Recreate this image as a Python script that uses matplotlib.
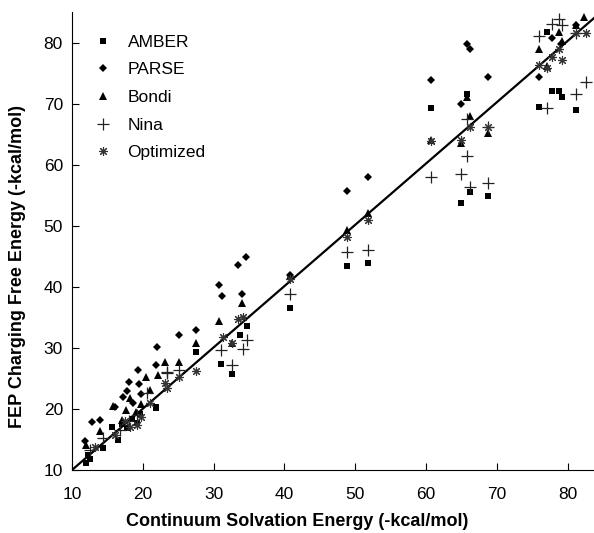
import matplotlib
matplotlib.use('Agg')
import matplotlib.pyplot as plt

plt.rcParams['font.family'] = ['Liberation Sans', 'DejaVu Sans']

# continuum energy (x) / FEP energy (y), -kcal/mol
amber_x = [12.3, 12.5, 12.0, 14.4, 16.5, 15.6, 17.0, 17.8, 19.2, 18.5, 19.6, 21.9, 21.9, 27.5, 31.0,
           32.6, 33.7, 34.7, 40.8, 48.8, 51.8, 60.7, 65.8, 64.9, 66.2, 68.8, 77.1, 77.7, 78.8, 79.2,
           76.0, 81.2]
amber_y = [12.5, 11.8, 11.2, 13.6, 14.9, 17.0, 17.5, 16.9, 17.7, 18.3, 19.2, 20.2, 20.3, 29.4, 27.4,
           25.7, 32.1, 33.6, 36.6, 43.4, 43.9, 69.2, 71.6, 53.8, 55.6, 54.9, 81.8, 72.0, 72.0, 71.0,
           69.5, 69.0]

parse_x = [11.8, 12.8, 14.0, 16.1, 17.2, 17.8, 18.1, 18.6, 19.5, 19.3, 19.7, 21.9, 22.0, 25.1, 27.5,
           30.8, 31.2, 33.4, 34.6, 34.0, 40.8, 48.8, 51.8, 60.7, 65.8, 66.2, 64.9, 68.8, 76.0, 77.7,
           79.0, 81.2]
parse_y = [14.8, 17.9, 18.2, 20.3, 22.0, 23.0, 24.4, 21.0, 24.1, 26.4, 22.5, 27.2, 30.2, 32.1, 32.9,
           40.3, 38.5, 43.6, 44.8, 38.8, 42.0, 55.7, 57.9, 73.8, 79.8, 78.9, 70.0, 74.3, 74.4, 80.7,
           79.7, 82.8]

bondi_x = [12.0, 14.0, 15.8, 17.1, 17.6, 18.2, 19.0, 19.8, 20.5, 21.0, 22.1, 23.1, 25.1, 27.5, 30.8,
           32.6, 34.0, 40.8, 48.8, 51.8, 60.7, 64.9, 65.8, 66.2, 68.8, 76.0, 77.1, 78.8, 79.2, 81.2,
           82.3]
bondi_y = [14.1, 16.4, 20.5, 18.2, 19.8, 21.8, 19.5, 20.8, 25.2, 23.1, 25.6, 27.7, 27.7, 30.8, 34.4,
           30.8, 37.4, 41.8, 49.3, 52.1, 64.1, 63.6, 71.1, 68.0, 65.2, 79.0, 76.1, 81.8, 80.3, 82.8,
           84.1]

nina_x = [12.5, 14.4, 16.8, 18.0, 19.2, 20.6, 23.4, 23.4, 25.1, 31.0, 32.6, 34.2, 34.7, 40.8, 48.8,
          51.8, 60.7, 64.9, 65.8, 65.8, 66.2, 68.8, 68.8, 76.0, 77.1, 77.7, 78.8, 79.2, 81.2, 81.2,
          82.5]
nina_y = [13.3, 15.2, 16.6, 18.0, 19.0, 22.6, 25.9, 26.1, 26.4, 29.7, 27.2, 29.8, 31.3, 38.9, 45.7,
          46.1, 58.0, 58.5, 67.4, 61.5, 56.4, 57.0, 66.2, 81.1, 69.2, 83.1, 83.8, 82.8, 71.6, 81.5,
          73.6]

opt_x = [13.2, 16.1, 17.5, 18.2, 19.2, 19.8, 21.0, 23.1, 23.4, 25.1, 27.5, 31.3, 32.6, 33.4, 34.2,
         40.8, 48.8, 51.8, 60.7, 64.9, 66.2, 68.8, 76.0, 77.1, 77.7, 78.8, 79.2, 81.2, 82.5]
opt_y = [13.8, 15.7, 18.0, 17.1, 17.4, 18.6, 21.0, 24.3, 23.4, 25.2, 26.2, 31.8, 30.8, 34.8, 35.1,
         41.3, 48.2, 51.0, 63.8, 64.1, 66.1, 66.2, 76.4, 75.8, 77.7, 78.9, 77.2, 81.5, 81.6]

fit_x = [10, 84]
fit_y = [10, 84.3]


def main():
    fig = plt.figure(figsize=(5.94, 5.33), dpi=100)
    ax = fig.add_axes([72 / 594, 63 / 533, 522 / 594, 458 / 533])

    ax.plot(fit_x, fit_y, color='black', lw=1.6, zorder=1)
    ax.plot(amber_x, amber_y, 's', color='black', ms=4.6, mew=0, label='AMBER')
    ax.plot(parse_x, parse_y, 'D', color='black', ms=4.3, mew=0, label='PARSE')
    ax.plot(bondi_x, bondi_y, '^', color='black', ms=5.3, mew=0, label='Bondi')
    ax.plot(nina_x, nina_y, '+', color='#222222', ms=9, mew=0.9, label='Nina')
    ax.plot(opt_x, opt_y, marker=(8, 2, 0), ls='none', color='#333333', ms=6.5, mew=0.8,
            label='Optimized')

    ax.set_xlim(10, 83.7)
    ax.set_ylim(10, 85)
    ax.set_xticks(range(10, 90, 10))
    ax.set_yticks(range(10, 90, 10))
    ax.spines['top'].set_visible(False)
    ax.spines['right'].set_visible(False)
    ax.tick_params(direction='in', length=5, labelsize=12.5)
    ax.tick_params(axis='x', pad=12)
    ax.tick_params(axis='y', pad=6.5)

    ax.set_xlabel('Continuum Solvation Energy (-kcal/mol)', fontsize=13, fontweight='bold')
    ax.set_ylabel('FEP Charging Free Energy (-kcal/mol)', fontsize=13, fontweight='bold')
    # labels are centred on the figure, not on the axes
    ax.xaxis.set_label_coords(225 / 522, -43 / 458)
    ax.yaxis.set_label_coords(-46 / 522, 203 / 458)

    ax.legend(loc='upper left', frameon=False, fontsize=12.5, handlelength=1.0,
              labelspacing=0.72, borderaxespad=0.9, handletextpad=0.9)

    fig.savefig('out.png', dpi=100)


if __name__ == '__main__':
    main()
